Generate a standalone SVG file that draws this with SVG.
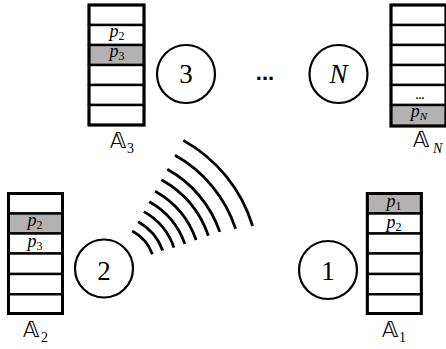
<svg xmlns="http://www.w3.org/2000/svg" width="446" height="349" viewBox="0 0 446 349">
<style>
.box{fill:#fff;stroke:#000;stroke-width:2.4}
.hl{fill:#b3b1b1;stroke:#000;stroke-width:2.4}
.node{fill:#fff;stroke:#000;stroke-width:2.2}
.num{font-family:'Liberation Serif','DejaVu Serif',serif;font-size:27px;text-anchor:middle;fill:#000}
.p{font-family:'Liberation Serif','DejaVu Serif',serif;font-size:18px;font-style:italic;text-anchor:middle;fill:#000}
.sub{font-style:normal;font-size:12px}
.subi{font-style:italic;font-size:11px}
.bb{font-family:'DejaVu Sans','DejaVu Serif',sans-serif;font-size:22px;fill:#000}
.bbs{font-family:'Liberation Serif','DejaVu Serif',serif;font-size:14px;fill:#000}
.dots{font-family:'Liberation Sans','DejaVu Sans',sans-serif;font-weight:bold;text-anchor:middle;fill:#000}
.wave{fill:none;stroke:#000;stroke-width:2.8}
</style>

<g id="signal">
<path class="wave" d="M183.3 140.4 A147 147 0 0 1 252.6 226"/>
<path class="wave" d="M175 155.3 A130 130 0 0 1 235.6 228.8"/>
<path class="wave" d="M167.3 169.3 A114 114 0 0 1 219.8 231.9"/>
<path class="wave" d="M161.4 179.8 A102 102 0 0 1 208.4 235.8"/>
<path class="wave" d="M155.1 191.2 A89 89 0 0 1 196.1 240"/>
<path class="wave" d="M149.3 201.7 A77 77 0 0 1 184.8 243.9"/>
<path class="wave" d="M143.8 211.6 A65.6 65.6 0 0 1 174 247.6"/>
<path class="wave" d="M138.2 221.8 A54 54 0 0 1 162.7 250.5"/>
<path class="wave" d="M132.2 231 A43 43 0 0 1 152.4 254.3"/>
</g>

<g id="stackA3">
<rect class="box" x="89" y="5" width="55" height="20"/>
<rect class="box" x="89" y="25" width="55" height="20"/>
<rect class="hl" x="89" y="45" width="55" height="20"/>
<rect class="box" x="89" y="65" width="55" height="20"/>
<rect class="box" x="89" y="85" width="55" height="20"/>
<rect class="box" x="89" y="105" width="55" height="20"/>
<rect x="89" y="5" width="55" height="120" fill="none" stroke="#000" stroke-width="3"/>
<text class="p" x="117" y="37">p<tspan class="sub" dy="3">2</tspan></text>
<text class="p" x="117" y="57">p<tspan class="sub" dy="3">3</tspan></text>
<text class="bb" x="110" y="148">𝔸</text>
<text class="bbs" x="127" y="153">3</text>
</g>

<g id="node3">
<circle class="node" cx="186" cy="74" r="29"/>
<text class="num" x="186" y="83">3</text>
</g>

<g id="ellipsis">
<text class="dots" x="265" y="80" font-size="22">...</text>
</g>

<g id="nodeN">
<circle class="node" cx="338.5" cy="74" r="29"/>
<text class="num" x="338.5" y="83" font-style="italic">N</text>
</g>

<g id="stackAN">
<rect class="box" x="391" y="5" width="55" height="20"/>
<rect class="box" x="391" y="25" width="55" height="20"/>
<rect class="box" x="391" y="45" width="55" height="20"/>
<rect class="box" x="391" y="65" width="55" height="20"/>
<rect class="box" x="391" y="85" width="55" height="20"/>
<rect class="hl" x="391" y="105" width="55" height="21"/>
<rect x="391" y="5" width="55" height="121" fill="none" stroke="#000" stroke-width="3"/>
<text class="dots" x="420" y="99" font-size="11">...</text>
<text class="p" x="419" y="117">p<tspan class="subi" dy="3">N</tspan></text>
<text class="bb" x="413" y="147">𝔸</text>
<text class="bbs" x="433" y="153" font-style="italic" font-size="12">N</text>
</g>

<g id="stackA2">
<rect class="box" x="8.5" y="193.5" width="54" height="20"/>
<rect class="hl" x="8.5" y="213.5" width="54" height="20"/>
<rect class="box" x="8.5" y="233.5" width="54" height="20"/>
<rect class="box" x="8.5" y="253.5" width="54" height="20.5"/>
<rect class="box" x="8.5" y="274" width="54" height="20.3"/>
<rect class="box" x="8.5" y="294.3" width="54" height="19.2"/>
<rect x="8.5" y="193.5" width="54" height="120" fill="none" stroke="#000" stroke-width="3"/>
<text class="p" x="35" y="226">p<tspan class="sub" dy="3">2</tspan></text>
<text class="p" x="35" y="247">p<tspan class="sub" dy="3">3</tspan></text>
<text class="bb" x="23" y="337">𝔸</text>
<text class="bbs" x="41" y="342">2</text>
</g>

<g id="node2">
<circle class="node" cx="104" cy="268.5" r="29"/>
<text class="num" x="104" y="280">2</text>
</g>

<g id="node1">
<circle class="node" cx="328" cy="270" r="29"/>
<text class="num" x="328" y="280">1</text>
</g>

<g id="stackA1">
<rect class="hl" x="367.3" y="193.5" width="54" height="20"/>
<rect class="box" x="367.3" y="213.5" width="54" height="20"/>
<rect class="box" x="367.3" y="233.5" width="54" height="20"/>
<rect class="box" x="367.3" y="253.5" width="54" height="20.5"/>
<rect class="box" x="367.3" y="274" width="54" height="20.3"/>
<rect class="box" x="367.3" y="294.3" width="54" height="19.2"/>
<rect x="367.3" y="193.5" width="54" height="120" fill="none" stroke="#000" stroke-width="3"/>
<text class="p" x="394" y="207">p<tspan class="sub" dy="3">1</tspan></text>
<text class="p" x="394" y="227.5">p<tspan class="sub" dy="3">2</tspan></text>
<text class="bb" x="382" y="337">𝔸</text>
<text class="bbs" x="399" y="342">1</text>
</g>
</svg>
